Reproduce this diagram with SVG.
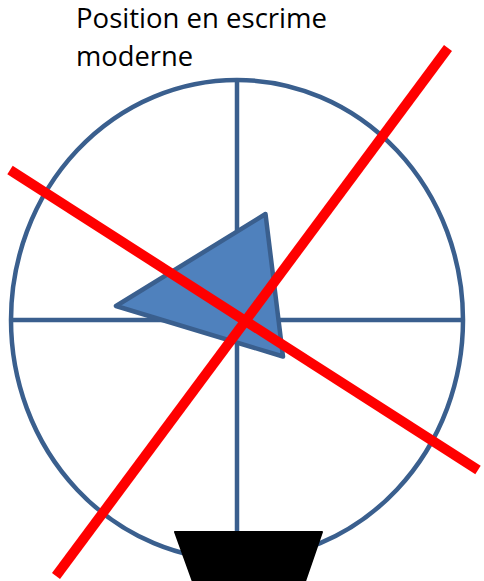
<svg xmlns="http://www.w3.org/2000/svg" width="484" height="581" viewBox="0 0 484 581">
<style>
.title{font-family:"Open Sans","Liberation Sans",sans-serif;font-size:27px;fill:#000}
.blue{fill:none;stroke:#3A5F8E;stroke-width:4.5}
.red{stroke:#FF0000;stroke-width:10;stroke-linecap:butt}
</style>
<rect width="484" height="581" fill="#fff"/>
<g id="title">
<text class="title" x="76" y="28" textLength="251" lengthAdjust="spacingAndGlyphs">Position en escrime</text>
<text class="title" x="76" y="66" textLength="117" lengthAdjust="spacingAndGlyphs">moderne</text>
</g>
<g id="target">
<ellipse class="blue" cx="237" cy="320" rx="226" ry="240"/>
<line class="blue" x1="237" y1="80" x2="237" y2="535"/>
<line class="blue" x1="11" y1="320" x2="463" y2="320"/>
</g>
<g id="pointer">
<polygon points="265.5,214 116,306 283,356.5" fill="#4F81BD" stroke="#3A5F8E" stroke-width="4.5" stroke-linejoin="round"/>
</g>
<g id="base">
<polygon points="175,532 322,532 302,590 196,590" fill="#000" stroke="#000" stroke-width="2" stroke-linejoin="round"/>
</g>
<g id="connectors">
<line class="red" x1="10" y1="170" x2="478" y2="470"/>
<line class="red" x1="448" y1="48" x2="56" y2="576"/>
</g>
</svg>
